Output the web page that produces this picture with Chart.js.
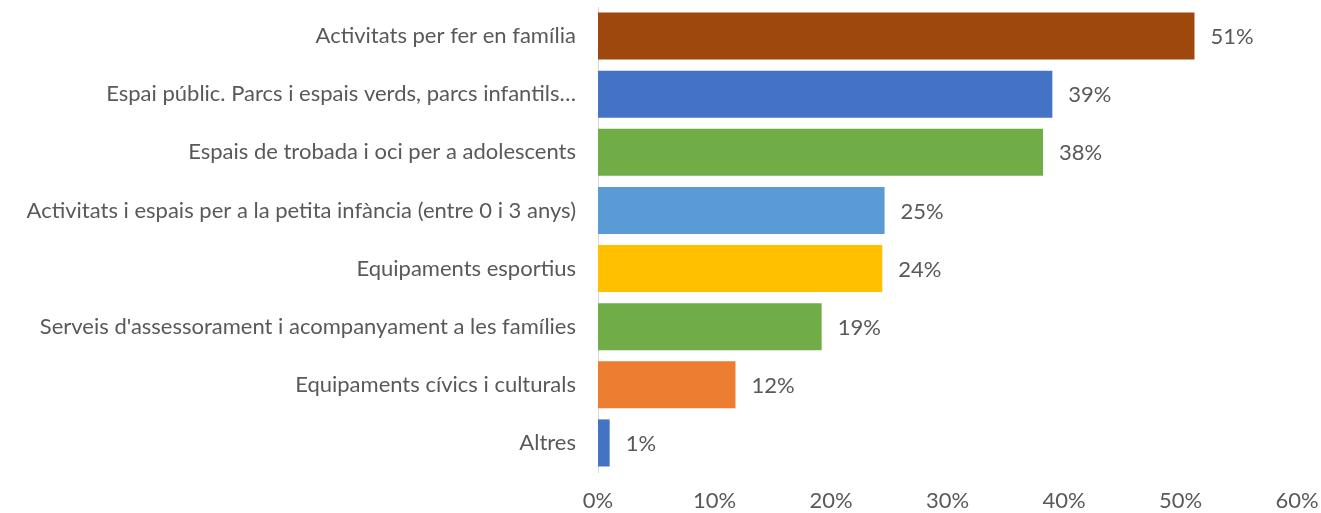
<!DOCTYPE html>
<html>
<head>
<meta charset="utf-8">
<script src="https://cdn.jsdelivr.net/npm/chart.js@4"></script>
<style>
  html, body { margin: 0; padding: 0; background: #fff; }
  #wrap { width: 1321px; height: 513px; }
</style>
</head>
<body>
<div id="wrap"><canvas id="chart" width="1321" height="513"></canvas></div>
<script>
  const categories = [
    "Activitats per fer en família",
    "Espai públic. Parcs i espais verds, parcs infantils…",
    "Espais de trobada i oci per a adolescents",
    "Activitats i espais per a la petita infància (entre 0 i 3 anys)",
    "Equipaments esportius",
    "Serveis d'assessorament i acompanyament a les famílies",
    "Equipaments cívics i culturals",
    "Altres"
  ];
  const percents = [51.2, 39.0, 38.2, 24.6, 24.4, 19.2, 11.8, 1.0];
  const barColors = ["#9E480E", "#4472C4", "#70AD47", "#5B9BD5", "#FFC000", "#70AD47", "#ED7D31", "#4472C4"];
  const xTicks = [0, 10, 20, 30, 40, 50, 60];

  const font = { family: "Lato, 'Open Sans', sans-serif", size: 22 };
  const textColor = "#595959";

  // value labels to the right of each bar
  const barLabels = {
    id: "barLabels",
    afterDatasetsDraw(chart) {
      const ctx = chart.ctx;
      const meta = chart.getDatasetMeta(0);
      ctx.save();
      ctx.font = font.size + "px " + font.family;
      ctx.fillStyle = textColor;
      ctx.textAlign = "left";
      ctx.textBaseline = "middle";
      meta.data.forEach((bar, i) => {
        ctx.fillText(Math.round(percents[i]) + "%", bar.x + 16, bar.y + 1);
      });
      ctx.restore();
    }
  };

  new Chart(document.getElementById("chart").getContext("2d"), {
    type: "bar",
    data: {
      labels: categories,
      datasets: [{
        data: percents,
        backgroundColor: barColors,
        barPercentage: 0.81,
        categoryPercentage: 1
      }]
    },
    options: {
      indexAxis: "y",
      responsive: false,
      animation: false,
      layout: { padding: { top: 7, right: 24, left: 0, bottom: 0 } },
      plugins: { legend: { display: false }, tooltip: { enabled: false } },
      scales: {
        x: {
          min: 0,
          max: 60,
          afterBuildTicks(axis) { axis.ticks = xTicks.map(v => ({ value: v })); },
          grid: { display: false, drawTicks: false },
          border: { display: false },
          ticks: { color: textColor, font: font, padding: 16, maxRotation: 0, callback: v => v + "%" },
          afterFit(axis) {
            axis.height = 41;
            axis.paddingLeft = 0;
            axis.paddingRight = 0;
          }
        },
        y: {
          grid: { display: false, drawTicks: false },
          border: { display: true, color: "#D9D9D9", width: 1 },
          ticks: { color: textColor, font: font, padding: 22 },
          afterFit(axis) {
            axis.width = 598;
            axis.paddingTop = 0;
            axis.paddingBottom = 0;
          }
        }
      }
    },
    plugins: [barLabels]
  });
</script>
</body>
</html>
